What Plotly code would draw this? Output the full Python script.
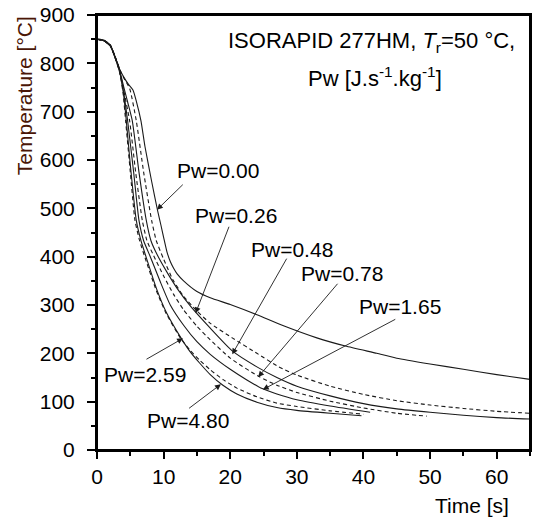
import plotly.graph_objects as go

# ---------------- data ----------------
t_000 = [0, 1, 2, 2.7, 3.4, 4, 4.7, 5.4, 5.9, 6.6, 7.2, 8.2, 9.1, 9.6, 10, 10.5, 11, 11.5, 12, 13, 15, 17, 20, 24, 28, 33, 37.3, 42, 45, 50, 55, 60, 65]
T_000 = [850, 848, 838, 814, 788, 772, 757, 745, 722, 681, 628, 556, 495, 465, 440, 410, 390, 376, 365, 350, 328, 315, 301, 280, 257, 232, 215, 200, 190, 178, 167, 156, 146]

t_026 = [0, 1, 2, 2.7, 3.4, 4, 4.9, 5.9, 7, 8.2, 8.9, 10, 11.4, 13, 14.9, 17, 20.3, 24, 27.3, 30, 35, 40, 45, 50, 55, 60, 65]
T_026 = [850, 848, 838, 815, 788, 770, 748, 681, 575, 475, 433, 395, 352, 318, 289, 262, 232, 200, 172, 155, 132, 115, 102, 93, 86, 80, 76]

t_048 = [0, 1, 2, 2.7, 3.4, 4, 4.6, 5.3, 6.3, 7.4, 8.1, 9, 10.5, 12, 14, 17, 20.3, 24, 27, 30, 35, 40, 45, 50, 55, 60, 65]
T_048 = [850, 847, 837, 814, 786, 752, 720, 681, 575, 475, 433, 405, 368, 335, 298, 252, 205, 172, 150, 132, 112, 96, 85, 78, 72, 67, 64]

t_078 = [0, 1, 2, 2.7, 3.4, 4, 4.9, 5.8, 6.8, 7.5, 8.5, 10, 11.5, 13, 15, 17, 20, 24.3, 27, 30, 35, 40, 45, 49.5]
T_078 = [850, 847, 837, 813, 785, 745, 681, 575, 475, 433, 402, 360, 322, 290, 256, 228, 190, 152, 134, 119, 101, 87, 76, 70]

t_165 = [0, 1, 2, 2.7, 3.4, 4, 4.6, 5.5, 6.3, 7, 8, 9.5, 11, 13, 15, 17, 20, 22.5, 24.8, 27, 30, 35, 41]
T_165 = [850, 847, 836, 813, 784, 740, 681, 575, 475, 433, 400, 348, 300, 258, 224, 198, 167, 145, 127, 116, 104, 91, 78]

t_259 = [0, 1, 2, 2.7, 3.4, 3.9, 4.3, 5, 5.7, 6.4, 7.4, 8.9, 10.4, 12.6, 14, 15.4, 17, 19, 21, 24, 27, 30, 35, 40]
T_259 = [850, 847, 836, 812, 781, 740, 681, 575, 475, 433, 390, 330, 282, 230, 206, 186, 166, 145, 128, 110, 97, 90, 81, 74]

t_480 = [0, 1, 2, 2.7, 3.4, 4, 4.4, 5, 5.9, 6.6, 7.4, 8.9, 10.4, 12.6, 14, 15.4, 17, 18.9, 21, 24, 27, 30, 35, 39.7]
T_480 = [850, 847, 836, 812, 782, 735, 681, 590, 475, 433, 398, 335, 285, 232, 203, 180, 156, 134, 116, 99, 88, 82, 76, 71]

series_names = ["Pw=0.00", "Pw=0.26", "Pw=0.48", "Pw=0.78", "Pw=1.65", "Pw=2.59", "Pw=4.80"]
series_t = [t_000, t_026, t_048, t_078, t_165, t_259, t_480]
series_T = [T_000, T_026, T_048, T_078, T_165, T_259, T_480]
series_dash = ["solid", "4px,3px", "solid", "4px,3px", "solid", "4px,3px", "solid"]

# label centres (data coords)
label_x = [18.1, 20.9, 29.2, 36.8, 45.5, 7.2, 13.6]
label_y = [578, 485, 414, 365, 296, 157, 61]
# arrow tails and tips (data coords)
arrow_tail_x = [13.1, 19.9, 28.6, 36.3, 45.0, 7.2, 13.6]
arrow_tail_y = [552, 465, 399, 347, 272, 186, 84]
arrow_tip_x = [9.0, 14.8, 20.3, 24.2, 24.9, 12.9, 18.6]
arrow_tip_y = [497, 283, 198, 151, 125, 231, 136]

x_ticks = [0, 10, 20, 30, 40, 50, 60]
y_ticks = [0, 100, 200, 300, 400, 500, 600, 700, 800, 900]
x_range = [0, 65]
y_range = [0, 900]

FONT = "Arial, 'Liberation Sans', sans-serif"

# plot area in page pixels: x 97..532, y 14..450
PL, PT, PW, PH = 97, 14, 435, 436
W, H = 535, 518


def px(xp):
    return (xp - PL) / PW


def py(yp):
    return (PT + PH - yp) / PH


fig = go.Figure()
for name, tx, ty, d in zip(series_names, series_t, series_T, series_dash):
    fig.add_trace(go.Scatter(x=tx, y=ty, mode="lines", name=name,
                             line=dict(color="#1a1a1a", width=1.1, dash=d,
                                       shape="spline", smoothing=0.5),
                             showlegend=False, hoverinfo="skip"))

annotations = []
for name, lx, ly in zip(series_names, label_x, label_y):
    annotations.append(dict(x=lx, y=ly, xref="x", yref="y", text=name, showarrow=False,
                            xanchor="center", yanchor="middle",
                            font=dict(family=FONT, size=21, color="#000")))
for tx, ty, hx, hy in zip(arrow_tail_x, arrow_tail_y, arrow_tip_x, arrow_tip_y):
    annotations.append(dict(x=hx, y=hy, ax=tx, ay=ty, xref="x", yref="y", axref="x", ayref="y",
                            text="", showarrow=True, arrowhead=2, arrowsize=1.3,
                            arrowwidth=0.9, arrowcolor="#1a1a1a"))

annotations.append(dict(x=px(372.5), y=py(41), xref="paper", yref="paper",
                        xanchor="center", yanchor="middle",
                        text="ISORAPID 277HM, <i>T</i><sub>r</sub>=50 °C,", showarrow=False,
                        font=dict(family=FONT, size=22, color="#000")))
annotations.append(dict(x=px(376), y=py(76), xref="paper", yref="paper",
                        xanchor="center", yanchor="middle",
                        text="Pw [J.s<sup>-1</sup>.kg<sup>-1</sup>]", showarrow=False,
                        font=dict(family=FONT, size=22, color="#000")))
annotations.append(dict(x=px(24), y=py(95), xref="paper", yref="paper",
                        xanchor="center", yanchor="middle",
                        text="Temperature [°C]", textangle=-90, showarrow=False,
                        font=dict(family=FONT, size=21, color="#4a1606")))
annotations.append(dict(x=px(474), y=py(506), xref="paper", yref="paper",
                        xanchor="center", yanchor="middle",
                        text="Time [s]", showarrow=False,
                        font=dict(family=FONT, size=21, color="#000")))

fig.update_layout(
    width=W, height=H,
    margin=dict(l=PL, r=W - PL - PW, t=PT, b=H - PT - PH),
    paper_bgcolor="white", plot_bgcolor="white",
    annotations=annotations,
    shapes=[dict(type="rect", xref="paper", yref="paper", x0=0, y0=0, x1=1, y1=1,
                 line=dict(color="#000", width=2), layer="above")],
    font=dict(family=FONT, size=21, color="#000"),
)
fig.update_xaxes(range=x_range, tickvals=x_ticks, ticks="outside", ticklen=7, tickwidth=2,
                 tickcolor="#000", showline=True, linecolor="#000", linewidth=2, mirror=True,
                 showgrid=False, zeroline=False, ticklabelstandoff=0,
                 tickfont=dict(family=FONT, size=21, color="#000"),
                 minor=dict(dtick=5, tick0=0, ticks="outside", ticklen=4, tickwidth=2,
                            tickcolor="#000", showgrid=False))
fig.update_yaxes(range=y_range, tickvals=y_ticks, ticks="outside", ticklen=8, tickwidth=2,
                 tickcolor="#000", showline=True, linecolor="#000", linewidth=2, mirror=True,
                 showgrid=False, zeroline=False, ticklabelstandoff=8,
                 tickfont=dict(family=FONT, size=21, color="#000"),
                 minor=dict(dtick=50, tick0=0, ticks="outside", ticklen=4, tickwidth=2,
                            tickcolor="#000", showgrid=False))

fig.write_html("out.html", config={"displayModeBar": False},
               post_script="document.body.style.margin='0';document.body.style.padding='0';")
